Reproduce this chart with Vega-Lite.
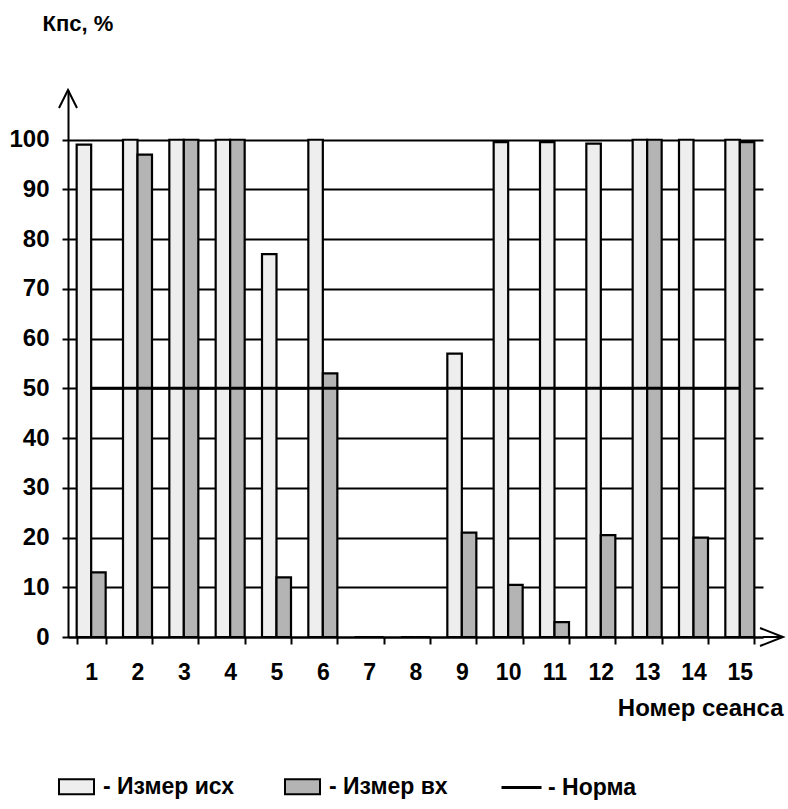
{
  "$schema": "https://vega.github.io/schema/vega-lite/v6.json",
  "autosize": {"type": "none"},
  "width": 695,
  "height": 547,
  "padding": {"left": 68, "top": 90, "right": 25, "bottom": 172},
  "background": "white",
  "config": {"view": {"stroke": null}, "font": "Liberation Sans"},
  "datasets": {
    "bars": [
      {"session": 1, "series": "Измер исх", "value": 99},
      {"session": 1, "series": "Измер вх", "value": 13},
      {"session": 2, "series": "Измер исх", "value": 100},
      {"session": 2, "series": "Измер вх", "value": 97},
      {"session": 3, "series": "Измер исх", "value": 100},
      {"session": 3, "series": "Измер вх", "value": 100},
      {"session": 4, "series": "Измер исх", "value": 100},
      {"session": 4, "series": "Измер вх", "value": 100},
      {"session": 5, "series": "Измер исх", "value": 77},
      {"session": 5, "series": "Измер вх", "value": 12},
      {"session": 6, "series": "Измер исх", "value": 100},
      {"session": 6, "series": "Измер вх", "value": 53},
      {"session": 7, "series": "Измер исх", "value": 0},
      {"session": 7, "series": "Измер вх", "value": 0},
      {"session": 8, "series": "Измер исх", "value": 0},
      {"session": 8, "series": "Измер вх", "value": 0},
      {"session": 9, "series": "Измер исх", "value": 57},
      {"session": 9, "series": "Измер вх", "value": 21},
      {"session": 10, "series": "Измер исх", "value": 99.5},
      {"session": 10, "series": "Измер вх", "value": 10.5},
      {"session": 11, "series": "Измер исх", "value": 99.5},
      {"session": 11, "series": "Измер вх", "value": 3},
      {"session": 12, "series": "Измер исх", "value": 99.2},
      {"session": 12, "series": "Измер вх", "value": 20.5},
      {"session": 13, "series": "Измер исх", "value": 100},
      {"session": 13, "series": "Измер вх", "value": 100},
      {"session": 14, "series": "Измер исх", "value": 100},
      {"session": 14, "series": "Измер вх", "value": 20},
      {"session": 15, "series": "Измер исх", "value": 100},
      {"session": 15, "series": "Измер вх", "value": 99.5}
    ],
    "norm": [
      {"session": 1, "series": "Норма", "value": 50},
      {"session": 15, "series": "Норма", "value": 50}
    ]
  },
  "layer": [
    {
      "layer": [
        {
          "data": {"name": "bars"},
          "mark": {"type": "bar", "stroke": "black", "strokeWidth": 2.2},
          "encoding": {
            "x": {
              "field": "session",
              "type": "ordinal",
              "scale": {"paddingInner": 0.374, "paddingOuter": 0.187},
              "axis": {
                "title": "Номер сеанса",
                "labelAngle": 0,
                "tickBand": "extent",
                "domainColor": "black",
                "domainWidth": 2,
                "tickColor": "black",
                "tickWidth": 2,
                "tickSize": 7,
                "labelFont": "Liberation Sans",
                "labelFontWeight": "bold",
                "labelFontSize": 23,
                "labelColor": "black",
                "labelPadding": 17,
                "titleFont": "Liberation Sans",
                "titleFontWeight": "bold",
                "titleFontSize": 24,
                "titleColor": "black",
                "titleAlign": "right",
                "titleBaseline": "alphabetic",
                "titleX": 715,
                "titleY": 78
              }
            },
            "xOffset": {"field": "series", "type": "nominal", "sort": ["Измер исх", "Измер вх"]},
            "y": {
              "field": "value",
              "type": "quantitative",
              "scale": {"domain": [0, 110], "nice": false},
              "axis": {
                "values": [0, 10, 20, 30, 40, 50, 60, 70, 80, 90, 100],
                "grid": true,
                "gridColor": "black",
                "gridWidth": 2,
                "gridOpacity": 1,
                "domainColor": "black",
                "domainWidth": 2,
                "tickColor": "black",
                "tickWidth": 2,
                "tickSize": 6,
                "labelFont": "Liberation Sans",
                "labelFontWeight": "bold",
                "labelFontSize": 24,
                "labelColor": "black",
                "labelPadding": 13,
                "title": "Кпс, %",
                "titleAngle": 0,
                "titleAlign": "left",
                "titleBaseline": "alphabetic",
                "titleX": -26,
                "titleY": -60,
                "titleFont": "Liberation Sans",
                "titleFontWeight": "bold",
                "titleFontSize": 22,
                "titleColor": "black"
              }
            },
            "fill": {
              "field": "series",
              "type": "nominal",
              "scale": {"domain": ["Измер исх", "Измер вх"], "range": ["#eeeeee", "#b4b4b4"]},
              "legend": {
                "orient": "none",
                "legendX": -10,
                "legendY": 678,
                "direction": "horizontal",
                "columns": 2,
                "title": null,
                "padding": 0,
                "symbolType": "M-1,-0.43H1V0.43H-1Z",
                "symbolSize": 1225,
                "symbolStrokeColor": "black",
                "symbolStrokeWidth": 2,
                "labelExpr": "'- ' + datum.label",
                "labelFont": "Liberation Sans",
                "labelFontSize": 23,
                "labelFontWeight": "bold",
                "labelColor": "black",
                "labelOffset": 8,
                "columnPadding": 46
              }
            }
          }
        },
        {
          "data": {"name": "norm"},
          "mark": {"type": "line", "strokeWidth": 3},
          "encoding": {
            "x": {"field": "session", "type": "ordinal"},
            "y": {"field": "value", "type": "quantitative"},
            "stroke": {
              "field": "series",
              "type": "nominal",
              "scale": {"range": ["black"]},
              "legend": {
                "orient": "none",
                "legendX": 432,
                "legendY": 676,
                "title": null,
                "padding": 0,
                "symbolType": "stroke",
                "symbolSize": 1600,
                "symbolStrokeWidth": 3,
                "labelExpr": "'- ' + datum.label",
                "labelFont": "Liberation Sans",
                "labelFontSize": 23,
                "labelFontWeight": "bold",
                "labelColor": "black",
                "labelOffset": 5
              }
            }
          }
        }
      ]
    },
    {
      "data": {"values": [{}]},
      "layer": [
        {
          "mark": {"type": "point", "shape": "M-1.8,3.6L0,0L1.8,3.6", "size": 100, "filled": false, "stroke": "black", "strokeWidth": 2, "opacity": 1},
          "encoding": {
            "x": {"datum": 0, "type": "quantitative", "scale": {"domain": [0, 1], "nice": false, "zero": false}, "axis": null},
            "y": {"datum": 110, "type": "quantitative"}
          }
        },
        {
          "mark": {"type": "point", "shape": "M-4.6,-1.8L0,0L-4.6,1.8", "size": 100, "filled": false, "stroke": "black", "strokeWidth": 2, "opacity": 1},
          "encoding": {
            "x": {"datum": 1.0288, "type": "quantitative"},
            "y": {"datum": 0, "type": "quantitative"}
          }
        },
        {
          "mark": {"type": "rule", "strokeWidth": 2, "color": "black"},
          "encoding": {
            "x": {"datum": 1, "type": "quantitative"},
            "x2": {"datum": 1.0288},
            "y": {"datum": 0, "type": "quantitative"}
          }
        }
      ]
    }
  ],
  "resolve": {"scale": {"x": "independent"}}
}
